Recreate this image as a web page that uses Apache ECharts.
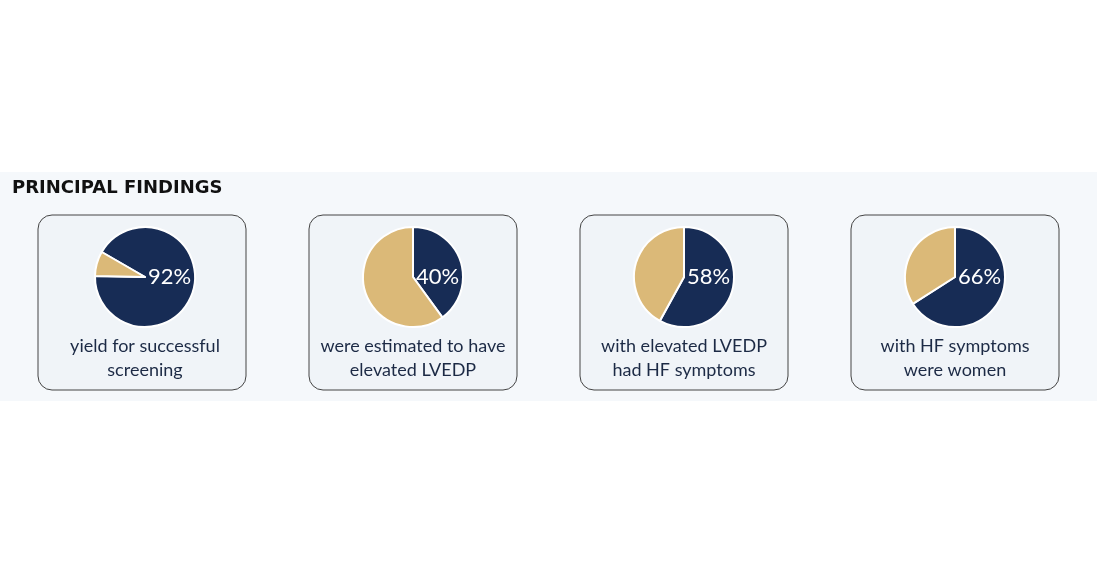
<!DOCTYPE html><html><head><meta charset="utf-8"><script src="https://cdn.jsdelivr.net/npm/echarts@6/dist/echarts.min.js"></script>
<style>html,body{margin:0;background:#fff}#c{width:1097px;height:574px}</style></head><body><div id="c"></div><script>
const percents=[92,40,58,66];
const captions=[["yield for successful","screening"],["were estimated to have","elevated LVEDP"],["with elevated LVEDP","had HF symptoms"],["with HF symptoms","were women"]];
const startAngles=[150,90,90,90];
const title="PRINCIPAL FINDINGS";
const chart=echarts.init(document.getElementById('c'));
const cx=[145,413,684,955], boxX=[38,309,580,851];
const DARK='#172c55', TAN='#dbb978', F='Lato';
const graphic=[
 {type:'rect',shape:{x:0,y:172,width:1097,height:229},style:{fill:'#f5f8fb'},z:-10},
 {type:'text',left:12,top:179,style:{text:title,font:'bold 18px "DejaVu Sans"',fill:'#111'}}
];
const series=[];
percents.forEach((p,i)=>{
 graphic.push({type:'rect',shape:{x:boxX[i],y:215,width:208,height:175,r:14},style:{fill:'#f0f4f8',stroke:'#444',lineWidth:1},z:-5});
 graphic.push({type:'text',style:{x:cx[i],y:346,text:captions[i][0],font:'18px '+F,fill:'#1c2a45',align:'center',verticalAlign:'middle'}});
 graphic.push({type:'text',style:{x:cx[i],y:370,text:captions[i][1],font:'18px '+F,fill:'#1c2a45',align:'center',verticalAlign:'middle'}});
 graphic.push({type:'text',z:100,style:{x:cx[i]+3,y:277,text:p+'%',font:'22px '+F,fill:'#fff',align:'left',verticalAlign:'middle'}});
 series.push({type:'pie',center:[cx[i],277],radius:[0,50],startAngle:startAngles[i],clockwise:true,silent:true,label:{show:false},labelLine:{show:false},
  itemStyle:{borderColor:'#fff',borderWidth:2},
  data:[{value:p,itemStyle:{color:DARK}},{value:100-p,itemStyle:{color:TAN}}]});
});
chart.setOption({animation:false,graphic,series});
</script></body></html>
